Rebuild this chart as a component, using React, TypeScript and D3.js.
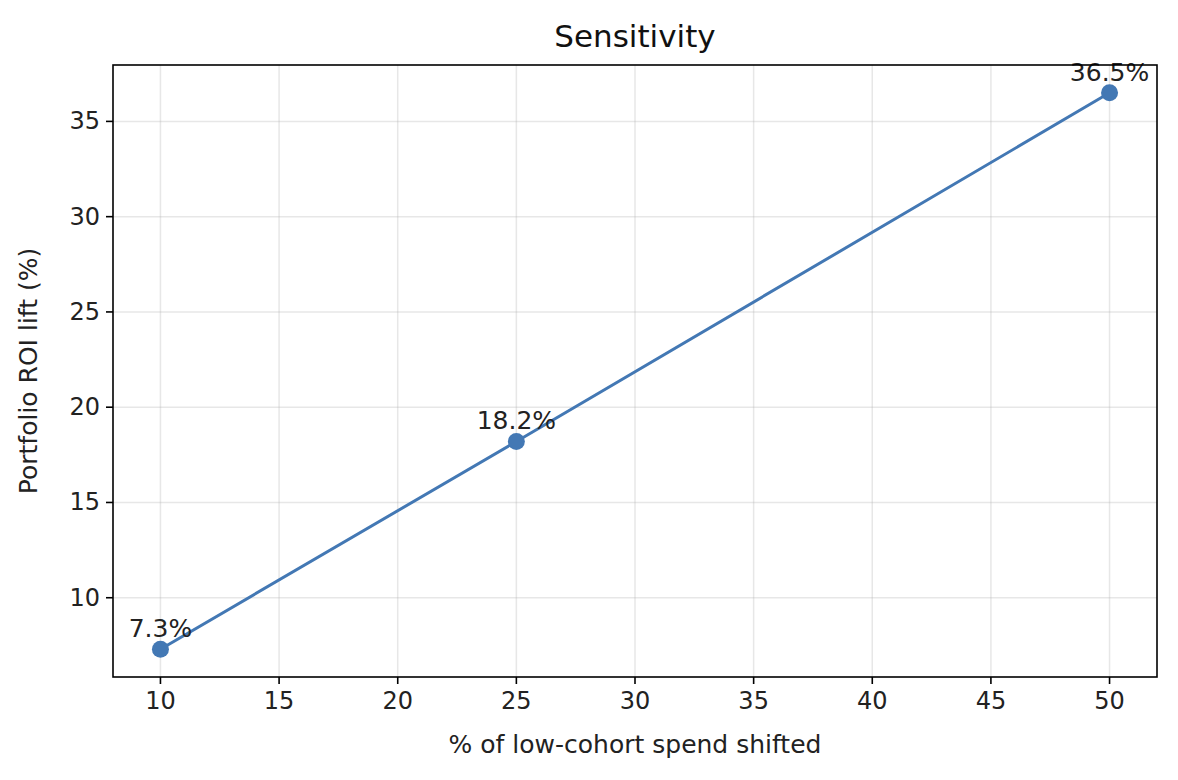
import React from "react";
import * as d3 from "d3";

const xValues = [10, 25, 50];
const yValues = [7.3, 18.2, 36.5];
const pointLabels = ["7.3%", "18.2%", "36.5%"];
const xTicks = [10, 15, 20, 25, 30, 35, 40, 45, 50];
const yTicks = [10, 15, 20, 25, 30, 35];

export default function App() {
  const W = 1178, H = 780;
  const L = 113, R = 1157, T = 65, B = 677;
  const x = d3.scaleLinear().domain([8, 52]).range([L, R]);
  const y = d3.scaleLinear().domain([5.84, 37.96]).range([B, T]);
  const line = d3.line<number>().x((_, i) => x(xValues[i])).y((d) => y(d));
  const color = "#4378b4";
  const font = "'DejaVu Sans', sans-serif";
  return (
    <svg width={W} height={H} style={{ position: "absolute", left: 0, top: 0, background: "#fff" }} fontFamily={font}>
      <rect x={0} y={0} width={W} height={H} fill="#fff" />
      {xTicks.map((t) => (
        <line key={"gx" + t} x1={x(t)} x2={x(t)} y1={T} y2={B} stroke="#b0b0b0" strokeOpacity={0.3} strokeWidth={1.5} />
      ))}
      {yTicks.map((t) => (
        <line key={"gy" + t} x1={L} x2={R} y1={y(t)} y2={y(t)} stroke="#b0b0b0" strokeOpacity={0.3} strokeWidth={1.5} />
      ))}
      <path d={line(yValues) || ""} fill="none" stroke={color} strokeWidth={3} />
      {yValues.map((v, i) => (
        <circle key={"c" + i} cx={x(xValues[i])} cy={y(v)} r={8.5} fill={color} />
      ))}
      {yValues.map((v, i) => (
        <text key={"l" + i} x={x(xValues[i])} y={y(v) - 12} textAnchor="middle" fontSize={25} fill="#222">
          {pointLabels[i]}
        </text>
      ))}
      <rect x={L} y={T} width={R - L} height={B - T} fill="none" stroke="#000" strokeWidth={1.6} />
      {xTicks.map((t) => (
        <g key={"tx" + t}>
          <line x1={x(t)} x2={x(t)} y1={B} y2={B + 7} stroke="#000" strokeWidth={1.6} />
          <text x={x(t)} y={B + 32} textAnchor="middle" fontSize={24} fill="#222">{t}</text>
        </g>
      ))}
      {yTicks.map((t) => (
        <g key={"ty" + t}>
          <line x1={L - 7} x2={L} y1={y(t)} y2={y(t)} stroke="#000" strokeWidth={1.6} />
          <text x={L - 13} y={y(t) + 8} textAnchor="end" fontSize={24} fill="#222">{t}</text>
        </g>
      ))}
      <text x={(L + R) / 2} y={753} textAnchor="middle" fontSize={25} fill="#222">% of low-cohort spend shifted</text>
      <text transform={`translate(37,${(T + B) / 2}) rotate(-90)`} textAnchor="middle" fontSize={25} fill="#222">Portfolio ROI lift (%)</text>
      <text x={(L + R) / 2} y={47} textAnchor="middle" fontSize={31} fill="#111">Sensitivity</text>
    </svg>
  );
}
